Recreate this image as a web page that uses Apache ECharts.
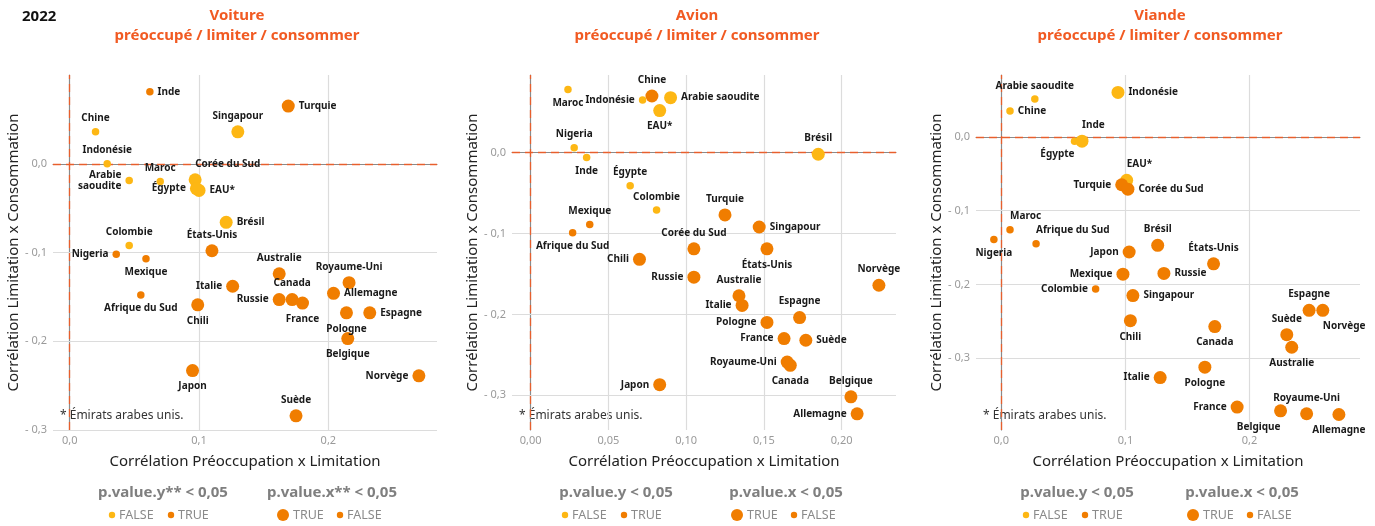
<!DOCTYPE html>
<html>
<head>
<meta charset="utf-8">
<script src="https://cdn.jsdelivr.net/npm/echarts@6/dist/echarts.min.js"></script>
<style>
  html, body { margin: 0; padding: 0; background: #fff; }
  #chart { width: 1375px; height: 526px; }
</style>
</head>
<body>
<div id="chart"></div>
<script>
// ---- Voiture ----
const voitureNames = ['Inde', 'Turquie', 'Chine', 'Singapour', 'Indonésie', 'Arabie\nsaoudite', 'Maroc', 'Corée du Sud', 'EAU*', 'Égypte',
  'Brésil', 'Colombie', 'Nigeria', 'Mexique', 'États-Unis', 'Afrique du Sud', 'Chili', 'Italie', 'Australie', 'Russie',
  'Canada', 'France', 'Royaume-Uni', 'Allemagne', 'Pologne', 'Espagne', 'Belgique', 'Norvège', 'Japon', 'Suède'];
const voitureX = [0.062, 0.169, 0.020, 0.130, 0.029, 0.046, 0.070, 0.097, 0.100, 0.098,
  0.121, 0.046, 0.036, 0.059, 0.110, 0.055, 0.099, 0.126, 0.162, 0.162,
  0.172, 0.180, 0.216, 0.204, 0.214, 0.232, 0.215, 0.270, 0.095, 0.175];
const voitureY = [0.081, 0.065, 0.036, 0.036, 0.000, -0.019, -0.020, -0.018, -0.030, -0.028,
  -0.066, -0.092, -0.102, -0.107, -0.098, -0.148, -0.159, -0.138, -0.124, -0.153,
  -0.153, -0.157, -0.134, -0.146, -0.168, -0.168, -0.197, -0.239, -0.233, -0.284];
// p.value.y < 0,05 (TRUE = orange) / p.value.x < 0,05 (TRUE = large)
const voitureSigY = [1, 1, 0, 0, 0, 0, 0, 0, 0, 0, 0, 0, 1, 1, 1, 1, 1, 1, 1, 1, 1, 1, 1, 1, 1, 1, 1, 1, 1, 1];
const voitureSigX = [0, 1, 0, 1, 0, 0, 0, 1, 1, 1, 1, 0, 0, 0, 1, 0, 1, 1, 1, 1, 1, 1, 1, 1, 1, 1, 1, 1, 1, 1];
const voitureLabelSide = ['r', 'r', 't', 't', 't', 'l', 't', 'tr', 'r', 'l',
  'r', 't', 'l', 'b', 't', 'b', 'b', 'l', 't', 'l',
  't', 'b', 't', 'r', 'b', 'r', 'b', 'l', 'b', 't'];
const voitureXTicks = [0, 0.1, 0.2];
const voitureYTicks = [-0.3, -0.2, -0.1, 0];

// ---- Avion ----
const avionNames = ['Maroc', 'Chine', 'Indonésie', 'Arabie saoudite', 'EAU*', 'Nigeria', 'Inde', 'Brésil', 'Égypte', 'Colombie',
  'Turquie', 'Mexique', 'Afrique du Sud', 'Singapour', 'Corée du Sud', 'États-Unis', 'Chili', 'Russie', 'Norvège', 'Australie',
  'Italie', 'Espagne', 'Pologne', 'France', 'Suède', 'Royaume-Uni', 'Canada', 'Japon', 'Belgique', 'Allemagne'];
const avionX = [0.024, 0.078, 0.072, 0.090, 0.083, 0.028, 0.036, 0.185, 0.064, 0.081,
  0.125, 0.038, 0.027, 0.147, 0.105, 0.152, 0.070, 0.105, 0.224, 0.134,
  0.136, 0.173, 0.152, 0.163, 0.177, 0.165, 0.167, 0.083, 0.206, 0.210];
const avionY = [0.078, 0.070, 0.065, 0.068, 0.052, 0.006, -0.006, -0.002, -0.041, -0.071,
  -0.077, -0.089, -0.099, -0.092, -0.119, -0.119, -0.132, -0.154, -0.164, -0.177,
  -0.189, -0.204, -0.210, -0.230, -0.232, -0.259, -0.263, -0.287, -0.302, -0.323];
const avionSigY = [0, 1, 0, 0, 0, 0, 0, 0, 0, 0, 1, 1, 1, 1, 1, 1, 1, 1, 1, 1, 1, 1, 1, 1, 1, 1, 1, 1, 1, 1];
const avionSigX = [0, 1, 0, 1, 1, 0, 0, 1, 0, 0, 1, 0, 0, 1, 1, 1, 1, 1, 1, 1, 1, 1, 1, 1, 1, 1, 1, 1, 1, 1];
const avionLabelSide = ['b', 't', 'l', 'r', 'b', 't', 'b', 't', 't', 't',
  't', 't', 'b', 'r', 't', 'b', 'l', 'l', 't', 't',
  'l', 't', 'l', 'l', 'r', 'l', 'b', 'l', 't', 'l'];
const avionXTicks = [0, 0.05, 0.1, 0.15, 0.2];
const avionYTicks = [-0.3, -0.2, -0.1, 0];

// ---- Viande ----
const viandeNames = ['Arabie saoudite', 'Chine', 'Indonésie', 'Égypte', 'Inde', 'EAU*', 'Turquie', 'Corée du Sud', 'Maroc', 'Nigeria',
  'Afrique du Sud', 'Brésil', 'Japon', 'États-Unis', 'Mexique', 'Russie', 'Colombie', 'Singapour', 'Espagne', 'Norvège',
  'Chili', 'Canada', 'Suède', 'Australie', 'Pologne', 'Italie', 'France', 'Belgique', 'Royaume-Uni', 'Allemagne'];
const viandeX = [0.027, 0.007, 0.094, 0.059, 0.065, 0.101, 0.097, 0.102, 0.007, -0.006,
  0.028, 0.126, 0.103, 0.171, 0.098, 0.131, 0.076, 0.106, 0.248, 0.259,
  0.104, 0.172, 0.230, 0.234, 0.164, 0.128, 0.190, 0.225, 0.246, 0.272];
const viandeY = [0.051, 0.035, 0.060, -0.006, -0.006, -0.059, -0.065, -0.071, -0.126, -0.139,
  -0.145, -0.147, -0.156, -0.172, -0.186, -0.185, -0.206, -0.215, -0.235, -0.235,
  -0.249, -0.257, -0.268, -0.285, -0.312, -0.326, -0.366, -0.371, -0.375, -0.376];
const viandeSigY = [0, 0, 0, 0, 0, 0, 1, 1, 1, 1, 1, 1, 1, 1, 1, 1, 1, 1, 1, 1, 1, 1, 1, 1, 1, 1, 1, 1, 1, 1];
const viandeSigX = [0, 0, 1, 0, 1, 1, 1, 1, 0, 0, 0, 1, 1, 1, 1, 1, 0, 1, 1, 1, 1, 1, 1, 1, 1, 1, 1, 1, 1, 1];
const viandeLabelSide = ['t', 'r', 'r', 'bl', 'tr', 'tr', 'l', 'r', 'tr', 'b',
  'tr', 't', 'l', 't', 'l', 'r', 'l', 'r', 't', 'br',
  'b', 'b', 't', 'b', 'b', 'l', 'l', 'bl', 't', 'b'];
const viandeXTicks = [0, 0.1, 0.2];
const viandeYTicks = [-0.3, -0.2, -0.1, 0];

const titles = ['Voiture', 'Avion', 'Viande'];
const legendYTitles = ['p.value.y** < 0,05', 'p.value.y < 0,05', 'p.value.y < 0,05'];
const legendXTitles = ['p.value.x** < 0,05', 'p.value.x < 0,05', 'p.value.x < 0,05'];

const YELLOW = '#FDB714';
const ORANGE = '#F07D00';
const RED = '#F15A22';
const FONT = 'Noto Sans';

const panels = [
  { names: voitureNames, x: voitureX, y: voitureY, sy: voitureSigY, sx: voitureSigX, side: voitureLabelSide,
    xt: voitureXTicks, yt: voitureYTicks, xd: 1, left: 53, xmin: -0.0129, xmax: 0.284, ymin: -0.3, ymax: 0.1,
    titleX: 237, legY: 163, legX: 332 },
  { names: avionNames, x: avionX, y: avionY, sy: avionSigY, sx: avionSigX, side: avionLabelSide,
    xt: avionXTicks, yt: avionYTicks, xd: 2, left: 512, xmin: -0.012, xmax: 0.235, ymin: -0.343, ymax: 0.096,
    titleX: 697, legY: 616, legX: 786 },
  { names: viandeNames, x: viandeX, y: viandeY, sy: viandeSigY, sx: viandeSigX, side: viandeLabelSide,
    xt: viandeXTicks, yt: viandeYTicks, xd: 1, left: 976, xmin: -0.0204, xmax: 0.289, ymin: -0.397, ymax: 0.0836,
    titleX: 1160, legY: 1077, legX: 1242 }
];

function fmt(d) {
  return function (v) {
    return (v < -1e-9 ? '- ' : '') + Math.abs(v).toFixed(d).replace('.', ',');
  };
}

function labelFor(side) {
  const map = {
    t: { position: 'top' },
    b: { position: 'bottom' },
    l: { position: 'left' },
    r: { position: 'right' },
    tl: { position: 'top', align: 'right' },
    tr: { position: 'top', align: 'left' },
    bl: { position: 'bottom', align: 'right' },
    br: { position: 'bottom', align: 'left' }
  };
  return map[side];
}

const grid = [], xAxis = [], yAxis = [], series = [], title = [], graphic = [];

title.push({ text: '2022', left: 22, top: 9, padding: 0, textStyle: { fontFamily: FONT, fontSize: 15, fontWeight: 'bold', color: '#111' } });

panels.forEach(function (p, i) {
  grid.push({ left: p.left, top: 75, width: 384, height: 355, outerBoundsMode: 'none' });
  xAxis.push({
    type: 'value', gridIndex: i, min: p.xmin, max: p.xmax,
    name: 'Corrélation Préoccupation x Limitation', nameLocation: 'middle', nameGap: 24,
    nameTextStyle: { fontFamily: FONT, fontSize: 15, color: '#222' },
    axisLine: { show: true, lineStyle: { color: '#8a8a8a', width: 1.2 } },
    axisTick: { show: true, length: 4, customValues: p.xt, lineStyle: { color: '#8a8a8a' } },
    axisLabel: { customValues: p.xt, formatter: fmt(p.xd), color: '#9a9a9a', fontFamily: FONT, fontSize: 11, margin: 5 },
    splitLine: { show: false }
  });
  yAxis.push({
    type: 'value', gridIndex: i, min: p.ymin, max: p.ymax,
    name: 'Corrélation Limitation x Consommation', nameLocation: 'middle', nameGap: 31,
    nameTextStyle: { fontFamily: FONT, fontSize: 15, color: '#222' },
    axisLine: { show: true, lineStyle: { color: '#8a8a8a', width: 1.2 } },
    axisTick: { show: true, length: 4, customValues: p.yt, lineStyle: { color: '#8a8a8a' } },
    axisLabel: { customValues: p.yt, formatter: fmt(1), color: '#9a9a9a', fontFamily: FONT, fontSize: 11, margin: 6 },
    splitLine: { show: false }
  });

  const gridLine = { color: '#dcdcdc', width: 1.2, type: 'solid' };
  const dashLine = { color: RED, width: 1.3, type: [8, 5], opacity: 0.9 };
  const marks = [];
  p.xt.filter(v => v !== 0).forEach(v => marks.push({ xAxis: v, lineStyle: gridLine }));
  p.yt.filter(v => v !== 0).forEach(v => marks.push({ yAxis: v, lineStyle: gridLine }));
  marks.push({ xAxis: 0, lineStyle: dashLine });
  marks.push({ yAxis: 0, lineStyle: dashLine });

  series.push({
    type: 'scatter', xAxisIndex: i, yAxisIndex: i, z: 3,
    data: p.names.map(function (n, k) {
      return {
        name: n, value: [p.x[k], p.y[k]],
        symbolSize: p.sx[k] ? 13 : 7.5,
        itemStyle: { color: p.sy[k] ? ORANGE : YELLOW, opacity: 1 },
        label: labelFor(p.side[k])
      };
    }),
    label: { show: true, formatter: '{b}', distance: 4, color: '#1a1a1a', fontFamily: FONT, fontSize: 10, fontWeight: 'bold', lineHeight: 11 },
    emphasis: { disabled: true },
    markLine: { silent: true, symbol: 'none', z: 1, animation: false, label: { show: false }, data: marks },
    animation: false
  });

  title.push({
    text: titles[i] + '\npréoccupé / limiter / consommer', left: p.titleX, top: 6, padding: 0, textAlign: 'center',
    textStyle: { fontFamily: FONT, fontSize: 15, fontWeight: 'bold', color: RED, lineHeight: 20 }
  });

  graphic.push({ type: 'text', left: p.left + 7, top: 410,
    style: { text: '* Émirats arabes unis.', fontFamily: FONT, fontSize: 12, fill: '#333' } });

  // legends
  graphic.push({ type: 'text', x: p.legY, y: 493, style: { text: legendYTitles[i], align: 'center', verticalAlign: 'middle', fontFamily: FONT, fontSize: 15, fontWeight: 'bold', fill: '#7f7f7f' } });
  graphic.push({ type: 'text', x: p.legX, y: 493, style: { text: legendXTitles[i], align: 'center', verticalAlign: 'middle', fontFamily: FONT, fontSize: 15, fontWeight: 'bold', fill: '#7f7f7f' } });
  const items = [
    [p.legY - 51, 3.2, YELLOW, 'FALSE', p.legY - 44],
    [p.legY + 8, 3.2, ORANGE, 'TRUE', p.legY + 15],
    [p.legX - 49, 6, ORANGE, 'TRUE', p.legX - 39],
    [p.legX + 8, 3.2, ORANGE, 'FALSE', p.legX + 15]
  ];
  items.forEach(function (it) {
    graphic.push({ type: 'circle', shape: { cx: it[0], cy: 515, r: it[1] }, style: { fill: it[2] } });
    graphic.push({ type: 'text', x: it[4], y: 515, style: { text: it[3], verticalAlign: 'middle', fontFamily: FONT, fontSize: 12.5, fill: '#8a8a8a' } });
  });
});

const chart = echarts.init(document.getElementById('chart'));
chart.setOption({
  animation: false,
  title: title,
  grid: grid,
  xAxis: xAxis,
  yAxis: yAxis,
  series: series,
  graphic: graphic
});
</script>
</body>
</html>
